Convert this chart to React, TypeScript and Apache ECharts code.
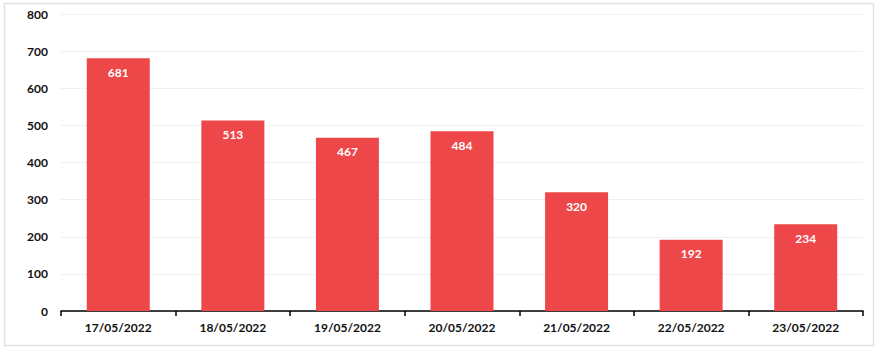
import React, { useEffect, useRef } from "react";
import * as echarts from "echarts";

const categories = ["17/05/2022", "18/05/2022", "19/05/2022", "20/05/2022", "21/05/2022", "22/05/2022", "23/05/2022"];
const values = [681, 513, 467, 484, 320, 192, 234];

const FONT = "Lato, 'Open Sans', sans-serif";

export default function App() {
  const ref = useRef<HTMLDivElement>(null);
  useEffect(() => {
    if (!ref.current) return;
    const chart = echarts.init(ref.current, null, { renderer: "svg" });
    chart.setOption({
      animation: false,
      backgroundColor: "#ffffff",
      grid: { left: 61, right: 17, top: 14, bottom: 41, containLabel: false },
      graphic: [
        {
          type: "rect",
          shape: { x: 4.5, y: 3.5, width: 869, height: 342 },
          style: { fill: "none", stroke: "#e2e2e2", lineWidth: 1.5 },
          silent: true,
          z: -1,
        },
      ],
      xAxis: {
        type: "category",
        data: categories,
        axisLine: { show: true, lineStyle: { color: "#000", width: 1.5 } },
        axisTick: { show: true, length: 5, lineStyle: { color: "#000", width: 1.5 } },
        axisLabel: { color: "#111", fontWeight: "bold", fontSize: 12, fontFamily: FONT, margin: 10 },
      },
      yAxis: {
        type: "value",
        min: 0,
        max: 800,
        interval: 100,
        axisLine: { show: false },
        axisTick: { show: false },
        splitLine: { lineStyle: { color: "#f0f0f0", width: 1 } },
        axisLabel: { color: "#111", fontWeight: "bold", fontSize: 12, fontFamily: FONT, margin: 13 },
      },
      series: [
        {
          type: "bar",
          data: values,
          barWidth: "55%",
          itemStyle: { color: "#ee4749" },
          label: {
            show: true,
            position: "insideTop",
            distance: 8,
            color: "#fff",
            fontWeight: "bold",
            fontSize: 12,
            fontFamily: FONT,
          },
        },
      ],
    });
    return () => chart.dispose();
  }, []);
  return (
    <div
      ref={ref}
      style={{ position: "fixed", left: 0, top: 0, width: 880, height: 352 }}
    />
  );
}
